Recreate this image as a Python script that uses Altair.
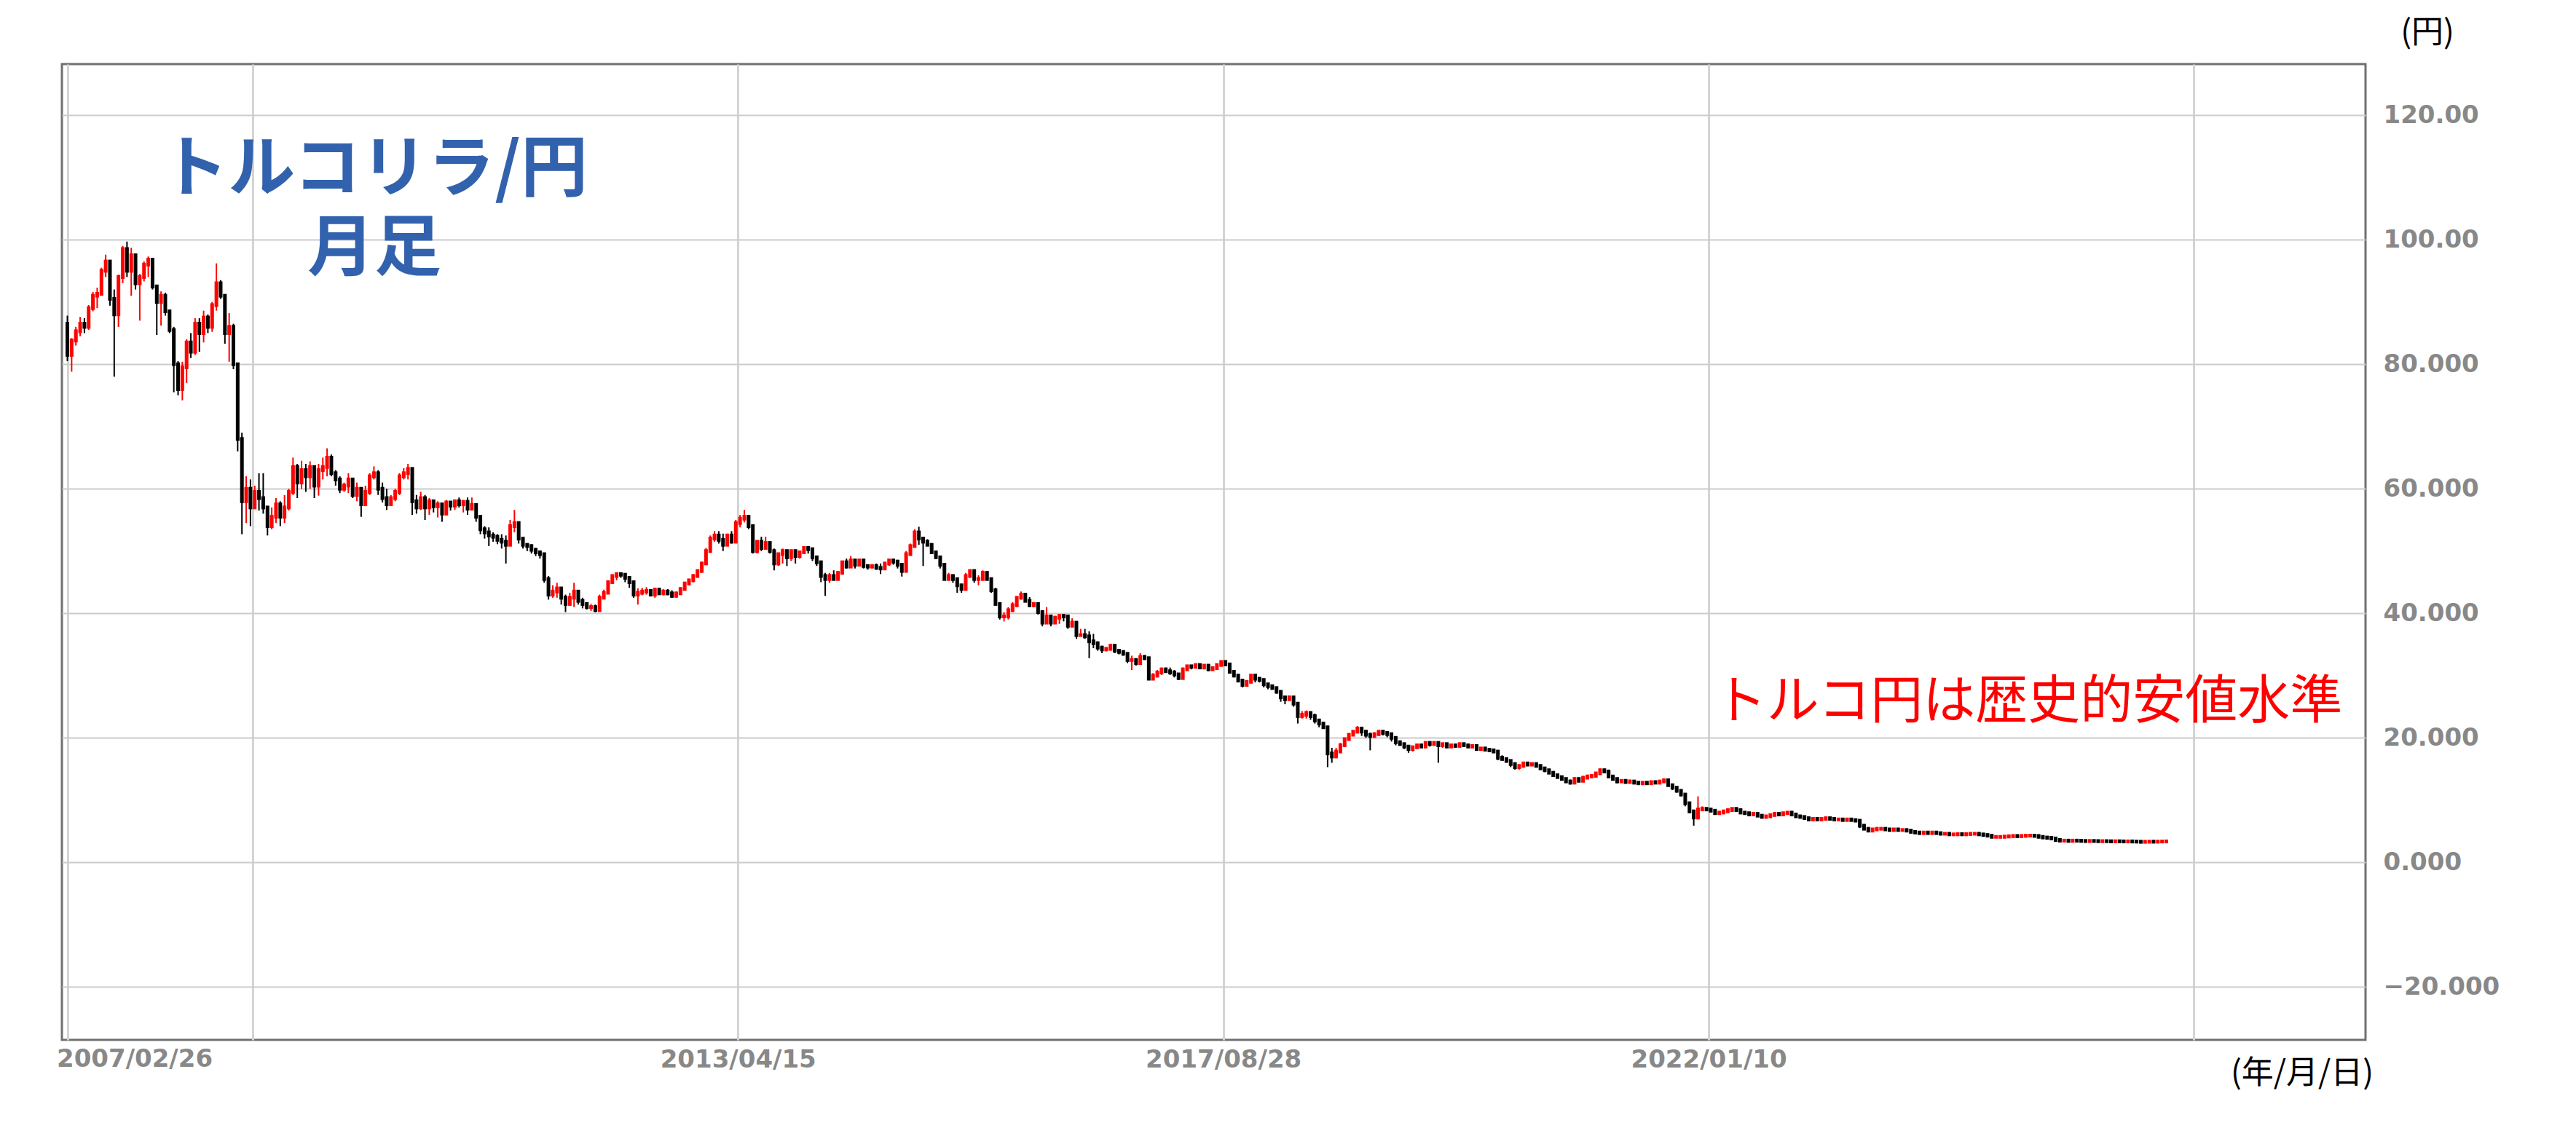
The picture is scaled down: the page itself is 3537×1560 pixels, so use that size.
import altair as alt
import pandas as pd

# ---- data: bi-weekly TRY/JPY candles ----
FIRST_DATE = "2007-04-02"
STEP_DAYS = 14
OPEN0 = 86.5

CLOSE = [
    81.5, 83.8, 85.3, 86.5, 86.0, 89.0, 91.0, 91.3, 95.0, 96.5,
    90.5, 88.0, 94.0, 98.5, 95.0, 97.5, 93.0, 94.0, 96.0, 96.8,
    92.5, 90.0, 91.0, 88.5, 85.5, 80.0, 76.0, 79.5, 83.5, 82.0,
    86.5, 85.0, 87.5, 86.0, 89.5, 93.0, 91.0, 85.0, 86.0, 80.0,
    68.0, 58.0, 60.0, 57.0, 59.5, 58.5, 57.0, 54.0, 55.5, 57.5,
    55.5, 57.0, 59.5, 63.5, 61.0, 63.0, 62.0, 63.5, 60.5, 63.0,
    63.5, 65.0, 62.5, 61.5, 60.0, 60.5, 61.5, 59.0, 60.0, 57.5,
    59.5, 62.0, 62.5, 60.0, 58.5, 57.5, 58.5, 59.5, 62.0, 62.5,
    63.2, 58.0, 57.0, 58.5, 57.0, 58.0, 57.2, 57.5, 56.0, 57.8,
    57.3, 58.0, 57.5, 57.9, 56.8, 57.4, 55.5, 53.5, 53.0, 52.5,
    52.3, 51.8, 51.5, 51.0, 54.0, 54.5, 52.0, 51.0, 50.8, 50.2,
    49.8, 49.5, 45.5, 43.0, 43.5, 44.0, 42.5, 41.5, 42.5, 43.5,
    42.0, 41.5, 41.0, 41.0, 40.5, 42.5, 43.3, 45.0, 46.0, 46.3,
    46.2, 45.7, 45.0, 43.0, 43.3, 43.5, 43.6, 43.0, 43.8, 43.2,
    43.5, 43.2, 42.8, 43.2, 43.9, 44.8, 45.3, 46.0, 46.8, 48.0,
    50.0, 52.0, 52.5, 51.8, 51.0, 52.5, 51.5, 54.5, 55.2, 55.5,
    54.0, 50.0, 51.5, 50.5, 51.3, 50.0, 48.0, 49.5, 50.0, 49.0,
    50.0, 49.2, 49.8, 50.5, 50.3, 49.0, 48.2, 46.0, 45.5, 46.0,
    45.5, 46.5, 48.2, 47.5, 48.5, 47.8, 48.5, 47.6, 47.5, 47.6,
    47.3, 47.2, 48.0, 48.5, 48.3, 47.8, 46.8, 49.5, 50.8, 53.0,
    52.0, 51.5, 51.0, 49.8, 49.0, 47.8, 45.5, 46.0, 45.5, 44.5,
    43.9, 46.0, 46.8, 45.5, 45.5, 46.5, 45.5, 43.7, 41.5, 39.5,
    39.5, 40.5, 41.3, 42.5, 43.0, 42.0, 41.3, 41.5, 40.2, 38.5,
    39.5, 38.5, 39.3, 39.6, 39.5, 38.0, 38.5, 36.5, 36.5, 36.3,
    35.5, 35.2, 34.5, 34.2, 34.3, 34.8, 34.0, 33.8, 33.5, 32.5,
    32.5, 32.0, 33.0, 32.8, 29.5, 30.0, 30.5, 31.0, 30.7, 30.5,
    30.2, 29.6, 31.0, 31.5, 31.4, 31.7, 31.3, 31.6, 31.0, 31.2,
    31.7, 32.2, 31.8, 30.6, 30.0, 29.2, 28.5, 29.0, 30.0, 29.5,
    29.3, 28.6, 28.3, 28.0, 27.4, 26.5, 26.2, 26.5, 25.5, 23.5,
    23.7, 24.0, 23.5, 22.8, 22.3, 21.7, 17.5, 17.0, 17.8, 18.8,
    19.8, 20.5, 21.0, 21.5, 21.0, 20.5, 20.3, 20.6, 21.0, 20.8,
    20.6, 20.0, 19.3, 19.0, 18.6, 18.2, 18.5, 18.8, 18.6, 19.2,
    19.0, 19.2, 18.8, 19.0, 18.6, 18.8, 18.7, 19.0, 18.8, 18.6,
    18.7, 18.2, 18.3, 18.1, 18.0, 17.8, 16.8, 16.6, 16.3, 15.8,
    15.3, 15.5, 15.9, 15.7, 15.8, 15.5, 15.1, 14.8, 14.4, 14.0,
    13.7, 13.4, 13.0, 12.8, 13.4, 13.1, 13.6, 13.8, 13.9, 14.3,
    14.8, 14.6, 13.8, 13.4, 13.0, 13.1, 12.9, 13.0, 12.8, 12.7,
    12.8, 12.7, 12.9, 12.8, 13.0, 13.2, 12.4, 12.0, 11.5, 10.9,
    9.5, 8.2, 7.2, 8.5, 8.6, 8.5, 8.3, 7.9, 8.0, 8.2,
    8.4, 8.6, 8.4, 8.0, 7.9, 7.7, 7.8, 7.5, 7.3, 7.4,
    7.6, 7.8, 7.7, 7.9, 8.0, 7.7, 7.4, 7.3, 7.1, 6.9,
    7.0, 6.9, 7.0, 7.1, 7.0, 6.9, 6.9, 6.8, 6.9, 6.8,
    6.7, 5.9, 5.4, 5.1, 5.3, 5.4, 5.4, 5.3, 5.2, 5.3,
    5.2, 5.2, 5.1, 4.9, 4.8, 4.7, 4.8, 4.7, 4.8, 4.7,
    4.6, 4.6, 4.5, 4.5, 4.55, 4.5, 4.55, 4.6, 4.6, 4.5,
    4.4, 4.3, 4.1, 4.1, 4.1, 4.15, 4.2, 4.25, 4.2, 4.25,
    4.3, 4.3, 4.25, 4.1, 4.0, 3.95, 3.85, 3.6, 3.5, 3.5,
    3.45, 3.5, 3.48, 3.45, 3.42, 3.45, 3.43, 3.4, 3.42, 3.4,
    3.38, 3.4, 3.38, 3.36, 3.38, 3.35, 3.33, 3.3, 3.32, 3.34,
    3.32, 3.35, 3.36, 3.38,
]

HIGH = [
    87.8, 84.2, 86.0, 87.6, 87.4, 89.5, 91.6, 92.3, 95.5, 97.6,
    95.5, 92.0, 94.4, 99.0, 99.7, 98.7, 97.8, 94.5, 96.5, 97.3,
    96.5, 92.0, 91.7, 91.5, 88.5, 86.0, 80.5, 80.4, 84.0, 85.0,
    87.4, 87.4, 88.6, 88.0, 90.0, 96.2, 93.5, 91.0, 88.2, 86.5,
    80.0, 69.0, 62.0, 61.5, 60.5, 62.5, 62.5, 57.0, 57.0, 58.5,
    58.0, 59.0, 60.0, 65.0, 64.0, 64.5, 64.0, 64.4, 63.0, 64.0,
    65.0, 66.5, 65.5, 63.0, 62.0, 61.0, 62.5, 61.5, 61.0, 60.0,
    60.5, 62.5, 63.6, 63.0, 61.0, 60.0, 59.0, 60.0, 62.5, 63.3,
    64.0, 62.5, 59.0, 59.5, 59.0, 58.5, 58.0, 58.0, 57.3, 58.2,
    57.8, 58.2, 58.6, 58.2, 58.6, 58.6, 57.0, 55.5, 54.0, 53.8,
    53.0, 52.7, 52.7, 52.5, 55.0, 56.6, 54.0, 52.0, 51.2, 51.1,
    50.5, 50.0, 48.0, 46.0, 44.5, 44.9, 44.0, 43.0, 43.3, 44.9,
    43.7, 42.5, 41.8, 41.5, 41.4, 43.0, 43.8, 45.3, 46.2, 46.5,
    46.5, 46.3, 45.7, 44.5, 44.0, 44.1, 44.2, 43.9, 44.1, 44.1,
    43.9, 43.9, 43.7, 43.5, 44.2, 45.0, 45.5, 46.3, 47.0, 48.3,
    50.5, 52.5, 53.2, 53.2, 52.8, 52.8, 53.2, 55.0, 55.8, 56.6,
    55.8, 53.5, 51.5, 52.3, 52.3, 51.2, 50.4, 49.6, 50.4, 50.0,
    50.0, 49.6, 50.0, 50.6, 50.8, 50.0, 48.8, 48.0, 46.5, 46.5,
    46.9, 46.5, 48.4, 48.8, 49.2, 48.4, 48.8, 48.4, 47.8, 47.8,
    48.0, 48.0, 48.0, 48.6, 48.8, 48.6, 48.0, 50.0, 51.2, 53.5,
    53.9, 52.0, 51.9, 51.2, 50.0, 48.4, 48.0, 46.5, 46.1, 45.7,
    44.5, 46.5, 46.9, 46.5, 46.1, 46.9, 46.5, 45.3, 44.1, 41.8,
    40.2, 41.0, 41.8, 42.6, 43.5, 43.0, 42.6, 41.8, 41.4, 40.2,
    41.0, 39.4, 39.6, 39.6, 39.6, 39.4, 39.2, 38.0, 37.5, 37.5,
    37.1, 36.7, 35.5, 34.8, 34.4, 35.0, 34.6, 34.3, 34.0, 33.6,
    33.2, 32.8, 33.6, 33.3, 33.0, 30.4, 30.9, 31.3, 31.3, 31.3,
    30.9, 30.1, 31.3, 31.7, 31.7, 31.8, 31.7, 31.8, 31.5, 31.4,
    31.9, 32.2, 32.3, 31.7, 30.7, 29.7, 29.3, 29.2, 30.1, 30.1,
    29.7, 29.1, 28.6, 28.3, 28.0, 27.2, 26.6, 26.8, 26.0, 25.2,
    24.3, 24.4, 24.0, 23.9, 22.9, 22.0, 21.5, 18.4, 18.4, 19.2,
    20.0, 20.7, 21.1, 21.9, 21.5, 20.7, 20.8, 20.9, 21.1, 21.1,
    20.8, 20.6, 20.0, 19.6, 19.2, 18.5, 18.6, 18.9, 19.0, 19.3,
    19.2, 19.4, 19.2, 19.2, 19.0, 19.0, 19.0, 19.2, 19.0, 19.0,
    18.9, 18.6, 18.5, 18.4, 18.3, 18.2, 18.0, 17.2, 16.8, 16.4,
    16.0, 15.7, 16.1, 15.9, 15.9, 15.7, 15.5, 15.1, 14.7, 14.5,
    14.1, 13.8, 13.5, 13.3, 13.7, 13.5, 13.9, 14.1, 14.1, 14.5,
    15.1, 15.1, 14.9, 13.9, 13.5, 13.3, 13.2, 13.3, 13.1, 13.0,
    12.9, 12.9, 13.0, 13.0, 13.1, 13.3, 13.0, 12.4, 11.8, 11.4,
    10.7, 9.3, 8.4, 10.6, 9.0, 8.8, 8.6, 8.3, 8.1, 8.3,
    8.5, 8.7, 8.7, 8.3, 8.1, 8.0, 7.9, 7.7, 7.5, 7.5,
    7.7, 7.9, 7.9, 8.1, 8.1, 8.0, 7.6, 7.5, 7.3, 7.1,
    7.1, 7.0, 7.1, 7.2, 7.2, 7.1, 7.0, 6.9, 7.0, 6.9,
    6.9, 6.7, 5.8, 5.4, 5.4, 5.6, 5.6, 5.5, 5.4, 5.4,
    5.3, 5.3, 5.2, 5.2, 5.0, 4.9, 4.9, 4.8, 4.9, 4.8,
    4.7, 4.7, 4.6, 4.6, 4.65, 4.6, 4.65, 4.7, 4.7, 4.65,
    4.55, 4.45, 4.3, 4.2, 4.2, 4.25, 4.3, 4.35, 4.3, 4.35,
    4.4, 4.4, 4.4, 4.3, 4.15, 4.05, 4.0, 3.9, 3.65, 3.56,
    3.52, 3.55, 3.53, 3.5, 3.48, 3.5, 3.48, 3.46, 3.47, 3.45,
    3.43, 3.45, 3.43, 3.41, 3.43, 3.4, 3.38, 3.36, 3.37, 3.39,
    3.37, 3.4, 3.41, 3.43,
]

LOW = [
    80.5, 78.8, 83.0, 84.5, 85.0, 85.5, 88.5, 89.0, 91.5, 94.0,
    89.4, 78.0, 86.0, 93.0, 94.0, 91.0, 92.0, 87.0, 93.3, 94.0,
    92.0, 84.7, 86.2, 87.8, 85.0, 75.5, 75.0, 74.2, 77.0, 81.0,
    81.5, 82.0, 83.5, 85.0, 85.2, 88.6, 90.5, 83.3, 80.4, 79.2,
    66.0, 52.7, 54.5, 54.0, 57.0, 56.5, 56.0, 52.5, 53.5, 54.5,
    54.0, 54.5, 56.5, 59.0, 58.5, 60.0, 59.5, 60.0, 58.5, 58.9,
    61.5, 62.0, 62.0, 60.5, 59.3, 59.5, 59.3, 58.5, 58.0, 55.5,
    57.5, 59.0, 61.5, 59.0, 57.8, 56.6, 57.5, 58.0, 59.0, 61.5,
    61.5, 55.8, 56.0, 56.6, 55.0, 55.8, 56.2, 55.4, 54.7, 55.8,
    56.5, 56.6, 57.0, 56.2, 55.8, 56.6, 54.7, 52.7, 52.0, 50.8,
    51.5, 51.1, 50.4, 48.0, 52.0, 53.0, 51.2, 50.4, 50.0, 49.6,
    49.2, 48.8, 44.9, 42.2, 42.5, 42.5, 41.4, 40.2, 41.4, 41.0,
    41.4, 40.8, 40.6, 40.4, 40.2, 41.0, 42.5, 43.7, 45.0, 45.3,
    45.7, 45.0, 44.1, 42.5, 41.4, 42.9, 43.0, 42.8, 42.5, 43.0,
    42.9, 42.9, 42.5, 42.5, 43.0, 43.7, 44.5, 45.0, 45.7, 46.5,
    48.0, 50.0, 51.5, 51.2, 50.0, 51.2, 51.2, 52.3, 53.8, 54.6,
    53.5, 49.6, 49.6, 50.0, 50.4, 49.6, 46.9, 47.6, 48.0, 47.6,
    48.4, 48.0, 48.8, 49.6, 49.6, 48.4, 47.6, 45.0, 42.8, 44.9,
    45.3, 45.3, 46.5, 47.2, 47.6, 47.2, 47.6, 47.2, 47.0, 47.2,
    47.0, 46.3, 47.0, 47.6, 47.8, 47.2, 45.9, 47.6, 49.6, 51.0,
    51.0, 47.6, 50.8, 49.6, 48.8, 47.2, 45.3, 45.3, 44.9, 43.3,
    43.3, 44.1, 45.7, 44.9, 44.5, 45.3, 45.3, 43.3, 41.4, 39.0,
    38.7, 39.0, 40.2, 41.0, 42.2, 41.8, 41.0, 41.0, 39.8, 37.9,
    38.7, 37.9, 38.7, 38.3, 38.7, 37.5, 37.9, 35.9, 36.3, 35.9,
    32.8, 34.4, 34.0, 33.6, 33.9, 34.0, 33.6, 33.4, 33.2, 32.0,
    30.9, 31.6, 32.0, 32.5, 29.3, 29.3, 29.7, 30.1, 30.5, 30.1,
    29.7, 29.3, 30.1, 30.9, 31.0, 31.2, 31.1, 31.0, 30.7, 30.8,
    31.2, 31.6, 31.6, 30.5, 29.7, 28.9, 28.1, 28.5, 29.3, 28.9,
    28.9, 28.1, 27.8, 27.8, 27.1, 25.8, 25.4, 26.0, 25.0, 22.3,
    23.1, 23.1, 22.9, 22.3, 21.7, 21.5, 15.3, 16.0, 16.8, 18.0,
    18.8, 19.6, 20.3, 20.7, 20.3, 20.0, 18.0, 20.0, 20.3, 20.4,
    20.1, 19.4, 18.8, 18.8, 18.2, 17.6, 17.8, 18.2, 18.4, 18.6,
    18.6, 18.8, 16.0, 18.4, 18.4, 18.4, 18.6, 18.6, 18.6, 18.4,
    18.4, 18.0, 18.0, 18.0, 17.8, 17.6, 16.4, 16.4, 16.0, 15.3,
    14.9, 14.9, 15.5, 15.5, 15.5, 15.3, 14.9, 14.5, 14.3, 13.9,
    13.7, 13.3, 12.9, 12.5, 12.9, 12.9, 13.3, 13.5, 13.7, 13.9,
    14.5, 14.5, 13.7, 13.3, 12.7, 12.9, 12.7, 12.7, 12.6, 12.5,
    12.4, 12.5, 12.6, 12.6, 12.7, 12.8, 12.2, 11.6, 11.2, 10.6,
    9.0, 7.9, 5.9, 6.9, 8.3, 8.3, 8.1, 7.7, 7.7, 7.9,
    8.1, 8.3, 8.1, 7.8, 7.7, 7.5, 7.5, 7.3, 7.1, 7.2,
    7.3, 7.5, 7.5, 7.7, 7.7, 7.5, 7.2, 7.1, 6.9, 6.7,
    6.7, 6.7, 6.8, 6.9, 6.8, 6.7, 6.7, 6.7, 6.7, 6.6,
    6.5, 5.5, 5.2, 4.9, 5.0, 5.2, 5.2, 5.2, 5.1, 5.1,
    5.1, 5.1, 5.0, 4.8, 4.7, 4.6, 4.6, 4.6, 4.7, 4.5,
    4.4, 4.4, 4.4, 4.4, 4.45, 4.4, 4.45, 4.5, 4.5, 4.4,
    4.3, 4.2, 4.0, 4.0, 4.0, 4.05, 4.1, 4.15, 4.1, 4.15,
    4.2, 4.2, 4.15, 4.0, 3.9, 3.85, 3.75, 3.3, 3.4, 3.44,
    3.4, 3.44, 3.43, 3.4, 3.37, 3.4, 3.38, 3.35, 3.37, 3.35,
    3.33, 3.35, 3.33, 3.31, 3.33, 3.3, 3.28, 3.22, 3.27, 3.29,
    3.27, 3.3, 3.31, 3.33,
]

Y_TICKS = [-20, 0, 20, 40, 60, 80, 100, 120]
X_GRID_DATES = [(2007, 4, 2), (2008, 12, 1), (2013, 4, 15), (2017, 8, 28),
                (2022, 1, 10), (2026, 5, 25)]
X_LABEL_YEARS = ["2013", "2017", "2022"]
FIRST_LABEL = "2007/02/26"
TITLE = "トルコリラ/円\n月足"
NOTE = "トルコ円は歴史的安値水準"
Y_UNIT = "(円)"
X_UNIT = "(年/月/日)"

# ---- build candle table ----
n = min(len(CLOSE), len(HIGH), len(LOW))
dates = pd.date_range(FIRST_DATE, periods=n, freq=f"{STEP_DAYS}D")
opens = [OPEN0] + CLOSE[: n - 1]
rows = []
for i in range(n):
    o, c = opens[i], CLOSE[i]
    rows.append({
        "date": dates[i],
        "open": o,
        "close": c,
        "high": max(HIGH[i], o, c),
        "low": min(LOW[i], o, c),
    })
df = pd.DataFrame(rows)

W, H = 3163, 1340
LABEL_FONT = "DejaVu Sans"
JP_FONT = "Noto Sans CJK JP"
LABEL_SIZE = 34

x_scale = alt.Scale(domain=[alt.DateTime(year=2007, month=3, date=15),
                            alt.DateTime(year=2027, month=12, date=10)])
y_scale = alt.Scale(domain=[-28.5, 128.2], nice=False, zero=False)

x_axis = alt.Axis(
    values=[alt.DateTime(year=y, month=m, date=d) for (y, m, d) in X_GRID_DATES],
    grid=True, gridColor="#d4d4d4", gridWidth=3,
    ticks=False, tickSize=0, domain=False,
    labelExpr="indexof(" + str(X_LABEL_YEARS) + ", timeFormat(datum.value, '%Y')) >= 0 ? timeFormat(datum.value, '%Y/%m/%d') : ''",
    labelFont=LABEL_FONT, labelFontWeight="bold", labelFontSize=LABEL_SIZE,
    labelColor="#888888", labelPadding=27, labelBaseline="middle",
    labelOverlap=False, labelFlush=False, labelLimit=0, title=None,
)
y_axis = alt.Axis(
    orient="right", values=Y_TICKS,
    grid=True, gridColor="#cccccc", gridWidth=2,
    ticks=False, tickSize=0, domain=False,
    labelExpr="datum.value >= 100 ? format(datum.value, '.2f') : format(datum.value, '.3f')",
    labelFont=LABEL_FONT, labelFontWeight="bold", labelFontSize=LABEL_SIZE,
    labelColor="#888888", labelPadding=24, labelAlign="left", labelLimit=0,
    title=None,
)

up_color = alt.condition(alt.datum.close >= alt.datum.open,
                         alt.value("#ff0000"), alt.value("#000000"))

base = alt.Chart(df)
wicks = base.mark_rule(strokeWidth=2).encode(
    x=alt.X("date:T", scale=x_scale, axis=x_axis),
    y=alt.Y("low:Q", scale=y_scale, axis=y_axis),
    y2="high:Q",
    color=up_color,
)
bodies = base.mark_rule(strokeWidth=5, strokeCap="square").encode(
    x="date:T",
    y="open:Q",
    y2="close:Q",
    color=up_color,
)


def label(txt, x, y, size, color, weight="normal", font=JP_FONT,
          align="center", **kw):
    return alt.Chart(pd.DataFrame({"t": [txt]})).mark_text(
        align=align, baseline="middle", font=font, fontSize=size,
        fontWeight=weight, color=color, **kw,
    ).encode(x=alt.value(x), y=alt.value(y), text="t:N")


first_label = label(FIRST_LABEL, -7, 1367, LABEL_SIZE, "#888888", "bold",
                    font=LABEL_FONT, align="left")
title = label(TITLE, 429, 146, 92, "#3262ad", "bold",
              lineBreak="\n", lineHeight=109)
note = label(NOTE, 2700, 876, 72, "#ff0000")
yunit = label(Y_UNIT, 3248, -42, 44, "#000000")
xunit = label(X_UNIT, 3076, 1387, 44, "#000000")

chart = alt.layer(wicks, bodies, first_label, title, note, yunit, xunit).properties(
    width=W, height=H,
    padding={"left": 77, "top": 80, "right": 280, "bottom": 120},
    autosize=alt.AutoSizeParams(type="none"),
    background="#ffffff",
).configure_view(stroke="#707070", strokeWidth=3)

chart.save("out.html", embed_options={"renderer": "svg", "actions": False})
